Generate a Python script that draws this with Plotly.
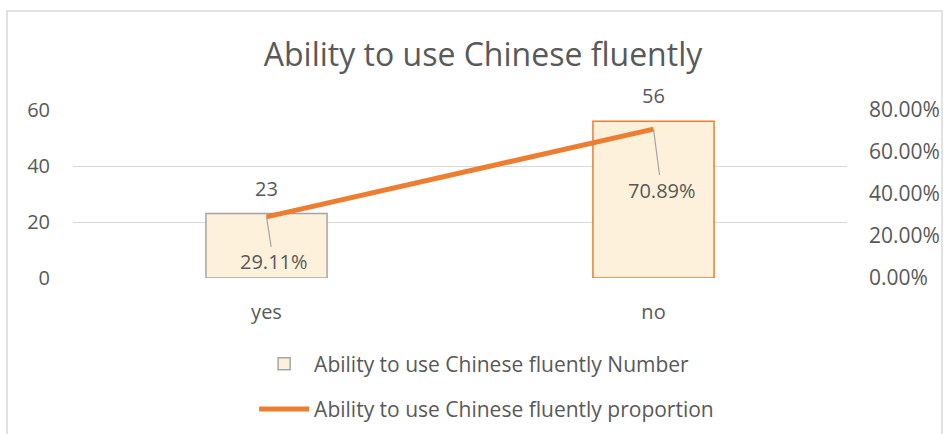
import plotly.graph_objects as go

categories = ["yes", "no"]
numbers = [23, 56]
proportions = [0.2911, 0.7089]
number_labels = ["23", "56"]
prop_labels = ["29.11%", "70.89%"]
bar_edge_colors = ["#A5A5A5", "#ED7D31"]
prop_label_offsets = [(7, 45), (8, 61)]

FONT = "Open Sans"
TXT = "#595959"

fig = go.Figure()
fig.add_trace(go.Bar(
    x=categories, y=numbers, name="Ability to use Chinese fluently Number",
    marker=dict(color="#FDF1DB", line=dict(color=bar_edge_colors, width=1.5)),
    width=0.313, legendgroup="a",
))
fig.add_trace(go.Scatter(
    x=categories, y=proportions, yaxis="y2", mode="lines",
    name="Ability to use Chinese fluently proportion",
    line=dict(color="#ED7D31", width=5), legendgroup="b",
))

for c, n, t in zip(categories, numbers, number_labels):
    fig.add_annotation(
        x=c, y=n, xref="x", yref="y", text=t, showarrow=False,
        yanchor="bottom", yshift=10,
        font=dict(family=FONT, size=20, color=TXT),
    )

for c, p, t, (dx, dy) in zip(categories, proportions, prop_labels, prop_label_offsets):
    fig.add_annotation(
        x=c, y=p, xref="x", yref="y2", text=t, showarrow=True,
        arrowhead=0, arrowwidth=1.2, arrowcolor="#A5A5A5",
        ax=dx, ay=dy, font=dict(family=FONT, size=20, color=TXT),
        standoff=0,
    )

fig.update_layout(
    width=948, height=434,
    margin=dict(l=73, r=101, t=110, b=156, autoexpand=False),
    paper_bgcolor="white", plot_bgcolor="white",
    title=dict(text="Ability to use Chinese fluently", x=483 / 948,
               xref="container", xanchor="center",
               y=1 - 55 / 434, yref="container", yanchor="middle",
               font=dict(family=FONT, size=32, color=TXT)),
    font=dict(family=FONT, color=TXT),
    xaxis=dict(showgrid=False, showline=False, ticks="", ticklabelstandoff=20,
               tickfont=dict(family=FONT, size=20, color=TXT)),
    yaxis=dict(range=[0, 60], tickvals=[0, 20, 40, 60], showgrid=True,
               gridcolor="#D9D9D9", gridwidth=1.3, zeroline=False,
               ticklabelstandoff=22,
               tickfont=dict(family=FONT, size=20, color=TXT)),
    yaxis2=dict(range=[0, 0.8], tickvals=[0, 0.2, 0.4, 0.6, 0.8],
                tickformat=".2%", overlaying="y", side="right",
                showgrid=False, zeroline=False, ticklabelstandoff=21,
                tickfont=dict(family=FONT, size=21, color=TXT)),
    showlegend=True,
    legend=dict(orientation="v", x=0.234, xanchor="left", y=-0.39,
                yanchor="top", traceorder="grouped", tracegroupgap=15,
                itemwidth=50,
                font=dict(family=FONT, size=21, color=TXT)),
)

fig.add_shape(type="rect", xref="paper", yref="paper",
              x0=(7 - 73) / 774, x1=(942 - 73) / 774,
              y0=(278 - 440) / 168, y1=(278 - 11) / 168,
              line=dict(color="#D9D9D9", width=1.5), fillcolor="rgba(0,0,0,0)",
              layer="below")

fig.write_html("out.html")
